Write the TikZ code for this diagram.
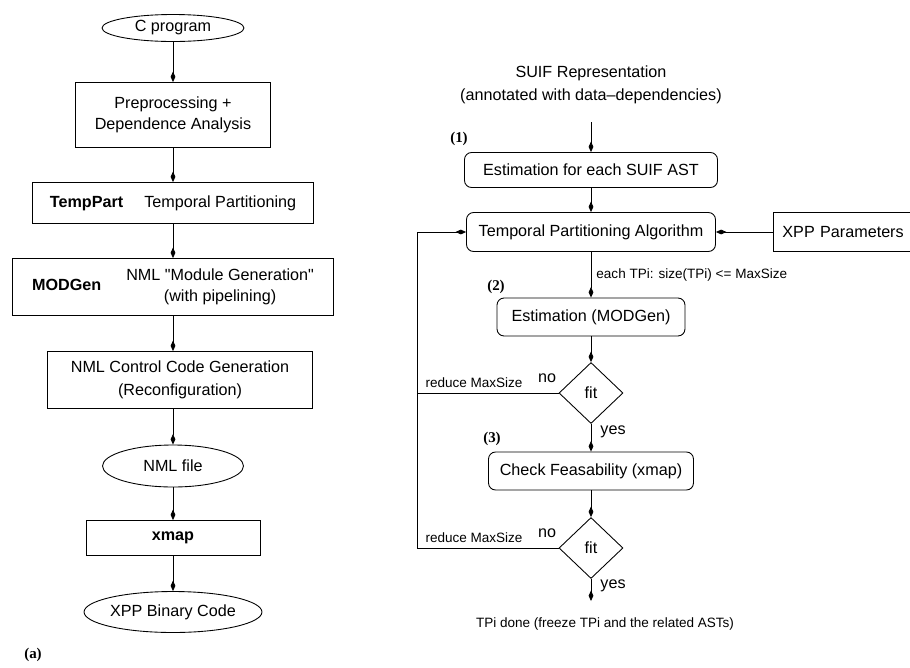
\documentclass[tikz,border=0pt]{standalone}
\usepackage{fontspec}
\setmainfont{Liberation Sans}[Ligatures=TeXOff]
\newfontfamily\serifbf{Liberation Serif}
\usetikzlibrary{arrows.meta,shapes.geometric}

\begin{document}
\begin{tikzpicture}[x=0.02cm,y=-0.02cm,line width=0.5pt,
    >={Kite[length=6pt,width=2.7pt,inset=3pt]},
    every node/.style={font=\fontsize{9.2}{12}\selectfont,inner sep=0pt},
    box/.style={draw,rectangle,align=center},
    rbox/.style={draw,rectangle,rounded corners=4pt,align=center},
    oval/.style={draw,ellipse},
    test/.style={draw,diamond,minimum width=1.28cm,minimum height=1.22cm},
    small/.style={font=\fontsize{7.7}{9}\selectfont},
    num/.style={font=\serifbf\bfseries\fontsize{8.5}{10}\selectfont}]
    \useasboundingbox (0,0) rectangle (910,667);
    % (a) begin
    \node[oval,minimum width=2.84cm,minimum height=0.54cm] (cprog) at (173,28) {C program};
    \node[box,minimum width=3.9cm,minimum height=1.3cm] (prep) at (173,115) {Preprocessing +\\Dependence Analysis};
    \node[box,minimum width=5.62cm,minimum height=0.82cm] (temppart) at (173,203) {\textbf{TempPart}\hspace{12pt}Temporal Partitioning};
    \node[box,minimum width=6.42cm,minimum height=1.14cm] (modgen) at (173,287) {\textbf{MODGen}\hspace{0.5cm}\begin{tabular}{@{}c@{}}NML "Module Generation"\\(with pipelining)\end{tabular}};
    \node[box,minimum width=5.3cm,minimum height=1.14cm] (nmlctrl) at (180,380) {NML Control Code Generation\\[1pt](Reconfiguration)};
    \node[oval,minimum width=2.82cm,minimum height=0.84cm] (nmlfile) at (173,466) {NML file};
    \node[box,minimum width=3.48cm,minimum height=0.7cm] (xmap) at (173,538) {\textbf{xmap}};
    \node[oval,minimum width=3.24cm,minimum height=0.82cm] (xppbin) at (173,612) {XPP Binary Code};
    \node[num] (laba) at (33,655) {(a)};
    \draw[->] (cprog) -- (prep);
    \draw[->] (prep) -- (temppart);
    \draw[->] (temppart) -- (modgen);
    \draw[->] (modgen.south) -- (modgen.south |- nmlctrl.north);
    \draw[->] (nmlctrl.south -| nmlfile) -- (nmlfile);
    \draw[->] (nmlfile) -- (xmap);
    \draw[->] (xmap) -- (xppbin);
    % (a) end
    % (b) begin
    \node[align=center,font=\fontsize{9.2}{13}\selectfont] (suif) at (591,85) {SUIF Representation\\(annotated with data\textendash dependencies)};
    \coordinate (suifout) at (591,122);
    \node[rbox,minimum width=5.06cm,minimum height=0.7cm] (est1) at (591,170) {Estimation for each SUIF AST};
    \node[num] (lab1) at (459,139) {(1)};
    \node[rbox,minimum width=4.98cm,minimum height=0.78cm] (tpa) at (591,232) {Temporal Partitioning Algorithm};
    \node[box,anchor=west,minimum height=0.78cm,text width=2.6cm,inner xsep=0.18cm,align=left] (xpp) at (773,232) {XPP Parameters};
    \node[num] (lab2) at (496,287) {(2)};
    \node[rbox,minimum width=3.76cm,minimum height=0.76cm] (est2) at (591,317) {Estimation (MODGen)};
    \node[test] (fit1) at (591,393) {fit};
    \node[num] (lab3) at (492,439) {(3)};
    \node[rbox,minimum width=4.1cm,minimum height=0.76cm] (check) at (591,471) {Check Feasability (xmap)};
    \node[test] (fit2) at (591,548) {fit};
    \coordinate (doneend) at (591,601);
    \node[small] (done) at (605,624) {TPi done (freeze TPi and the related ASTs)};
    \coordinate (back) at (417,232);
    \node[small] (red1) at (474,383) {reduce MaxSize};
    \node (no1) at (547,378) {no};
    \node[small] (red2) at (474,538) {reduce MaxSize};
    \node (no2) at (547,533) {no};
    \draw[->] (suifout) -- (est1);
    \draw[->] (est1) -- (tpa);
    \draw[->] (xpp) -- (tpa);
    \draw[->] (tpa) -- node[small,right=0.1cm] (sizelbl) {each TPi: size(TPi) <= MaxSize} (est2);
    \draw[->] (est2) -- (fit1);
    \draw[->] (fit1) -- node[pos=0.3,right=0.18cm] (yes1) {yes} (check);
    \draw[->] (check) -- (fit2);
    \draw[->] (fit2) -- node[pos=0.3,right=0.18cm] (yes2) {yes} (doneend);
    \draw (fit1.west) -- (fit1.west -| back);
    \draw[->] (fit2.west) -| (back) -- (tpa.west);
    % (b) end
\end{tikzpicture}
\end{document}
